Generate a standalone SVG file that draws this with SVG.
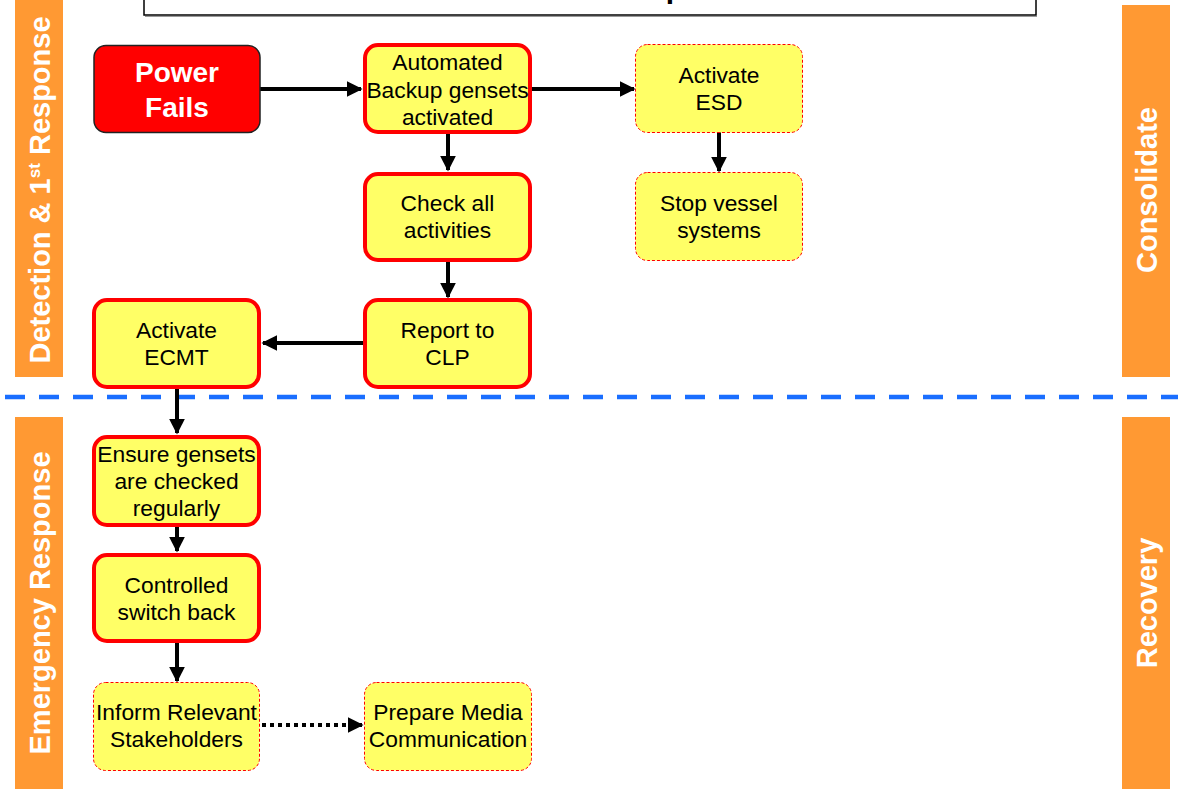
<svg xmlns="http://www.w3.org/2000/svg" width="1178" height="789" viewBox="0 0 1178 789">
  <defs>
    <marker id="arrow" viewBox="0 0 10 10" refX="9" refY="5" markerWidth="4" markerHeight="4" markerUnits="strokeWidth" orient="auto">
      <path d="M0,0 L10,5 L0,10 z" fill="#000"/>
    </marker>
    <style>
      .band { fill: #FF9933; }
      .band-label { font-family: "Liberation Sans", Arial, sans-serif; font-weight: bold; font-size: 29px; fill: #FFFFFF; text-anchor: middle; }
      .step { fill: #FFFF66; stroke: #FF0000; stroke-width: 4; }
      .optional { fill: #FFFF66; stroke: #FF0000; stroke-width: 1; stroke-dasharray: 3 2; }
      .trigger { fill: #FF0000; stroke: #222; stroke-width: 1.5; }
      .label { font-family: "Liberation Sans", Arial, sans-serif; font-size: 22.8px; fill: #000; text-anchor: middle; }
      .trigger-label { font-family: "Liberation Sans", Arial, sans-serif; font-size: 28px; font-weight: bold; fill: #FFFFFF; text-anchor: middle; }
      .flow { stroke: #000; stroke-width: 4; fill: none; marker-end: url(#arrow); }
      .flow-dotted { stroke: #000; stroke-width: 4; fill: none; stroke-dasharray: 4 4; marker-end: url(#arrow); }
      .phase-split { stroke: #1A6EFF; stroke-width: 4.5; stroke-dasharray: 20 14; fill: none; }
    </style>
  </defs>

  <rect width="1178" height="789" fill="#FFFFFF"/>

  <!-- title box, clipped at the top edge -->
  <g id="title">
    <rect x="144" y="-4" width="892" height="19" fill="#FFFFFF" stroke="#000" stroke-width="1.5"/>
    <line x1="145" y1="16.5" x2="1037" y2="16.5" stroke="#999" stroke-width="1"/>
    <text x="675" y="-2" font-family="Liberation Sans, Arial, sans-serif" font-size="30" font-weight="bold" text-anchor="middle" fill="#000">p</text>
  </g>

  <!-- phase bands -->
  <g id="band-detection">
    <rect class="band" x="15" y="0" width="48" height="377"/>
    <text class="band-label" transform="translate(49.5,190) rotate(-90)">Detection &amp; 1<tspan font-size="17" dy="-10">st</tspan><tspan dy="10"> Response</tspan></text>
  </g>
  <g id="band-emergency">
    <rect class="band" x="15" y="417" width="48" height="372"/>
    <text class="band-label" transform="translate(49.5,603) rotate(-90)">Emergency Response</text>
  </g>
  <g id="band-consolidate">
    <rect class="band" x="1122" y="5" width="48" height="372"/>
    <text class="band-label" transform="translate(1156.5,190) rotate(-90)">Consolidate</text>
  </g>
  <g id="band-recovery">
    <rect class="band" x="1122" y="417" width="48" height="372"/>
    <text class="band-label" transform="translate(1156.5,603) rotate(-90)">Recovery</text>
  </g>

  <!-- separator between phases -->
  <line class="phase-split" x1="5" y1="397" x2="1178" y2="397"/>

  <!-- connectors -->
  <g id="connectors">
    <line class="flow" x1="260" y1="89" x2="361" y2="89"/>
    <line class="flow" x1="532" y1="89" x2="634" y2="89"/>
    <line class="flow" x1="719" y1="132" x2="719" y2="171"/>
    <line class="flow" x1="448" y1="134" x2="448" y2="170"/>
    <line class="flow" x1="448" y1="261" x2="448" y2="297"/>
    <line class="flow" x1="363" y1="343" x2="263" y2="343"/>
    <line class="flow" x1="177" y1="389" x2="177" y2="433"/>
    <line class="flow" x1="177" y1="527" x2="177" y2="551"/>
    <line class="flow" x1="177" y1="643" x2="177" y2="681"/>
    <line class="flow-dotted" x1="262" y1="725" x2="362" y2="725"/>
  </g>

  <!-- nodes -->
  <g id="power-fails">
    <rect class="trigger" x="94" y="45.5" width="166" height="87" rx="12"/>
    <text class="trigger-label" x="177" y="82">Power</text>
    <text class="trigger-label" x="177" y="117">Fails</text>
  </g>
  <g id="backup-gensets">
    <rect class="step" x="365" y="45" width="165" height="87" rx="13"/>
    <text class="label" x="447.5" y="70">Automated</text>
    <text class="label" x="447.5" y="97.5">Backup gensets</text>
    <text class="label" x="447.5" y="125">activated</text>
  </g>
  <g id="activate-esd">
    <rect class="optional" x="635.5" y="44.5" width="167" height="88" rx="12"/>
    <text class="label" x="719" y="83">Activate</text>
    <text class="label" x="719" y="110">ESD</text>
  </g>
  <g id="stop-vessel">
    <rect class="optional" x="635.5" y="172.5" width="167" height="88" rx="12"/>
    <text class="label" x="719" y="211">Stop vessel</text>
    <text class="label" x="719" y="238">systems</text>
  </g>
  <g id="check-activities">
    <rect class="step" x="365" y="174" width="165" height="86" rx="13"/>
    <text class="label" x="447.5" y="211">Check all</text>
    <text class="label" x="447.5" y="238">activities</text>
  </g>
  <g id="report-clp">
    <rect class="step" x="365" y="300" width="165" height="87" rx="13"/>
    <text class="label" x="447.5" y="338">Report to</text>
    <text class="label" x="447.5" y="365">CLP</text>
  </g>
  <g id="activate-ecmt">
    <rect class="step" x="94" y="300" width="165" height="87" rx="13"/>
    <text class="label" x="176.5" y="338">Activate</text>
    <text class="label" x="176.5" y="365">ECMT</text>
  </g>
  <g id="ensure-gensets">
    <rect class="step" x="94" y="437" width="165" height="88" rx="13"/>
    <text class="label" x="176.5" y="462">Ensure gensets</text>
    <text class="label" x="176.5" y="489">are checked</text>
    <text class="label" x="176.5" y="516">regularly</text>
  </g>
  <g id="controlled-switch-back">
    <rect class="step" x="94" y="555" width="165" height="86" rx="13"/>
    <text class="label" x="176.5" y="593">Controlled</text>
    <text class="label" x="176.5" y="620">switch back</text>
  </g>
  <g id="inform-stakeholders">
    <rect class="optional" x="93.5" y="682.5" width="166" height="88" rx="12"/>
    <text class="label" x="176.5" y="720">Inform Relevant</text>
    <text class="label" x="176.5" y="747">Stakeholders</text>
  </g>
  <g id="prepare-media">
    <rect class="optional" x="364.5" y="682.5" width="167" height="88" rx="12"/>
    <text class="label" x="448" y="720">Prepare Media</text>
    <text class="label" x="448" y="747">Communication</text>
  </g>
</svg>
